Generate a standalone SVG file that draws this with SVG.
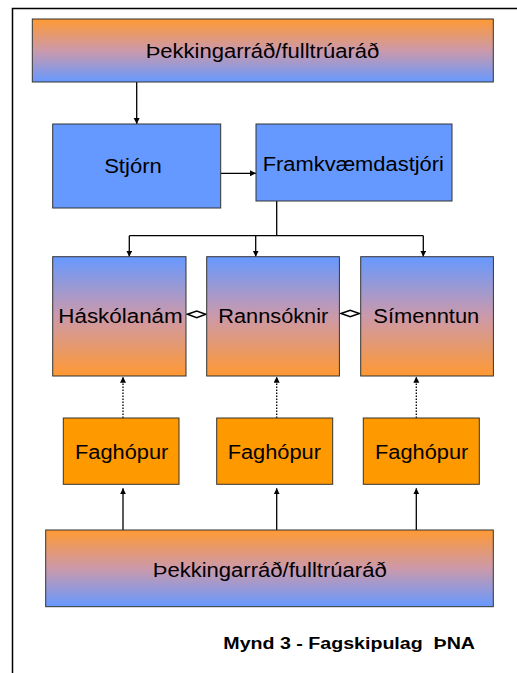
<svg xmlns="http://www.w3.org/2000/svg" width="517" height="673" viewBox="0 0 517 673">
<style>
.box{stroke:#333333;stroke-width:1}
.lbl{font-family:"Liberation Sans",Arial,sans-serif;font-size:20px;fill:#000;text-anchor:middle}
.cap{font-family:"Liberation Sans",Arial,sans-serif;font-size:16px;font-weight:bold;fill:#000}
.con{stroke:#000;stroke-width:1.3;fill:none}
.dot{stroke:#000;stroke-width:1.3;fill:none;stroke-dasharray:1.5 1.5}
.dia{stroke:#000;stroke-width:1.5;fill:#fff}
</style>
<defs>
<linearGradient id="gOB" x1="0" y1="0" x2="0" y2="1">
<stop offset="0" stop-color="#FF9933"/>
<stop offset="0.5" stop-color="#CC99AA"/>
<stop offset="1" stop-color="#6699FF"/>
</linearGradient>
<linearGradient id="gBO" x1="0" y1="0" x2="0" y2="1">
<stop offset="0" stop-color="#6699FF"/>
<stop offset="0.5" stop-color="#CC99AA"/>
<stop offset="1" stop-color="#FF9933"/>
</linearGradient>
<marker id="arr" markerUnits="userSpaceOnUse" markerWidth="7" markerHeight="7" refX="6" refY="3" orient="auto">
<path d="M0,0 L6,3 L0,6 z" fill="#000"/>
</marker>
</defs>
<rect width="517" height="673" fill="#fff"/>
<g id="frame">
<path d="M12.5,673 V8.5 H517" stroke="#000" stroke-width="1.5" fill="none"/>
</g>
<g id="connectors">
<line class="con" x1="136.7" y1="82" x2="136.7" y2="124" marker-end="url(#arr)"/>
<line class="con" x1="221" y1="173.3" x2="256" y2="173.3" marker-end="url(#arr)"/>
<polyline class="con" points="276.7,201 276.7,235.7"/>
<polyline class="con" points="129.3,235.7 423.3,235.7"/>
<line class="con" x1="129.3" y1="235.7" x2="129.3" y2="256.7" marker-end="url(#arr)"/>
<line class="con" x1="255.7" y1="235.7" x2="255.7" y2="256.7" marker-end="url(#arr)"/>
<line class="con" x1="423.3" y1="235.7" x2="423.3" y2="256.7" marker-end="url(#arr)"/>
<polygon class="dia" points="187.5,314.3 196.7,311 205.8,314.3 196.7,317.6"/>
<polygon class="dia" points="341,313.5 350.2,310.2 359.4,313.5 350.2,316.8"/>
<line class="dot" x1="123" y1="418" x2="123" y2="376.7" marker-end="url(#arr)"/>
<line class="dot" x1="276.7" y1="418" x2="276.7" y2="376.7" marker-end="url(#arr)"/>
<line class="dot" x1="416.3" y1="418" x2="416.3" y2="376.7" marker-end="url(#arr)"/>
<line class="con" x1="123" y1="530" x2="123" y2="488.3" marker-end="url(#arr)"/>
<line class="con" x1="276.7" y1="530" x2="276.7" y2="488.3" marker-end="url(#arr)"/>
<line class="con" x1="416.3" y1="530" x2="416.3" y2="488.3" marker-end="url(#arr)"/>
</g>
<g id="n-top">
<rect class="box" x="32.3" y="19" width="461" height="63" fill="url(#gOB)"/>
<text class="lbl" x="262.5" y="57.7" textLength="233.6" lengthAdjust="spacingAndGlyphs">Þekkingarráð/fulltrúaráð</text>
</g>
<g id="n-stjorn">
<rect class="box" x="52.7" y="124" width="168" height="84" fill="#6699FF"/>
<text class="lbl" x="133" y="173.3" textLength="57.7" lengthAdjust="spacingAndGlyphs">Stjórn</text>
</g>
<g id="n-framkv">
<rect class="box" x="256" y="124" width="196" height="77" fill="#6699FF"/>
<text class="lbl" x="353.3" y="171" textLength="181.3" lengthAdjust="spacingAndGlyphs">Framkvæmdastjóri</text>
</g>
<g id="n-haskolanam">
<rect class="box" x="52.7" y="256.7" width="133.3" height="119.3" fill="url(#gBO)"/>
<text class="lbl" x="120.5" y="323.3" textLength="124.4" lengthAdjust="spacingAndGlyphs">Háskólanám</text>
</g>
<g id="n-rannsoknir">
<rect class="box" x="206.7" y="256.7" width="132.7" height="119.3" fill="url(#gBO)"/>
<text class="lbl" x="273.3" y="323.3" textLength="110" lengthAdjust="spacingAndGlyphs">Rannsóknir</text>
</g>
<g id="n-simenntun">
<rect class="box" x="360.7" y="256.7" width="132.7" height="119.3" fill="url(#gBO)"/>
<text class="lbl" x="426.3" y="323.3" textLength="106" lengthAdjust="spacingAndGlyphs">Símenntun</text>
</g>
<g id="n-fag1">
<rect class="box" x="63.3" y="418" width="115.7" height="66.3" fill="#FF9900"/>
<text class="lbl" x="121.7" y="459.3" textLength="93.3" lengthAdjust="spacingAndGlyphs">Faghópur</text>
</g>
<g id="n-fag2">
<rect class="box" x="216.7" y="418" width="116" height="66.3" fill="#FF9900"/>
<text class="lbl" x="274.3" y="459.3" textLength="93.3" lengthAdjust="spacingAndGlyphs">Faghópur</text>
</g>
<g id="n-fag3">
<rect class="box" x="363.3" y="418" width="116" height="66.3" fill="#FF9900"/>
<text class="lbl" x="421.7" y="459.3" textLength="93.3" lengthAdjust="spacingAndGlyphs">Faghópur</text>
</g>
<g id="n-bottom">
<rect class="box" x="45.7" y="530" width="447.6" height="76.7" fill="url(#gOB)"/>
<text class="lbl" x="269.7" y="577" textLength="234" lengthAdjust="spacingAndGlyphs">Þekkingarráð/fulltrúaráð</text>
</g>
<g id="caption">
<text class="cap" x="223.3" y="649" textLength="251.7" lengthAdjust="spacingAndGlyphs" xml:space="preserve">Mynd 3 - Fagskipulag  ÞNA</text>
</g>
</svg>
